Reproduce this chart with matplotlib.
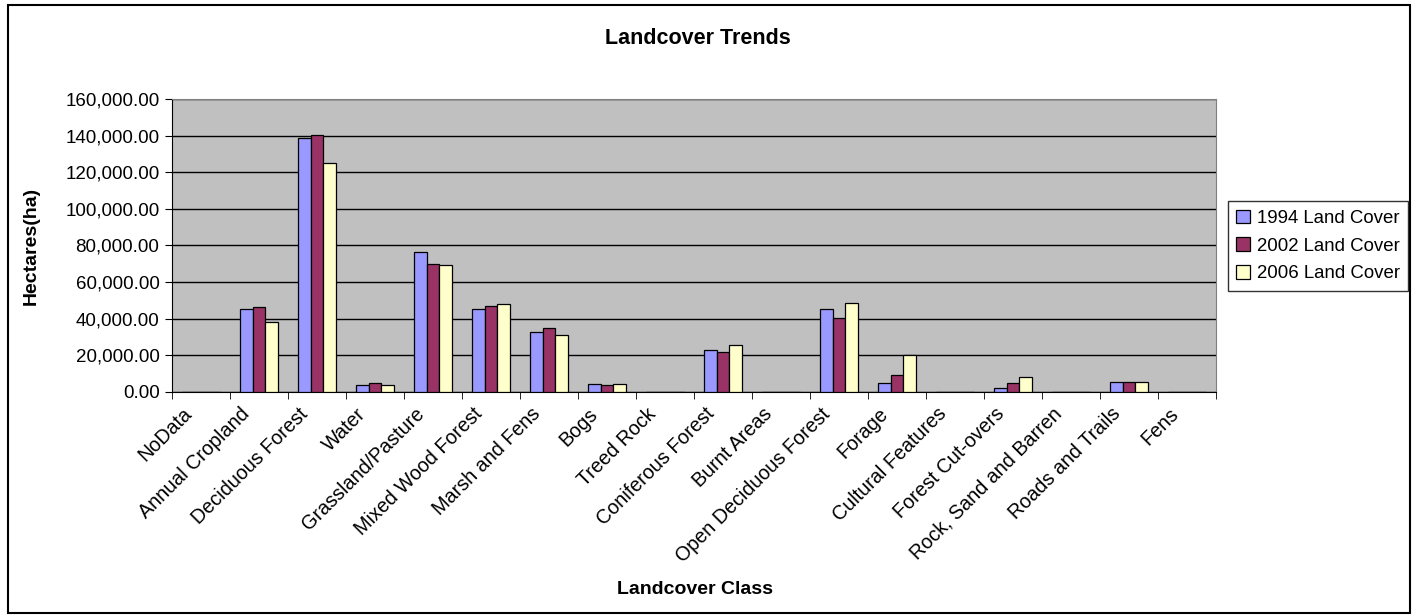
import numpy as np
import matplotlib
matplotlib.use("Agg")
import matplotlib.pyplot as plt
from matplotlib.patches import Rectangle
from matplotlib.ticker import FuncFormatter, MultipleLocator
from matplotlib.transforms import ScaledTranslation

plt.rcParams['font.family'] = ['Liberation Sans', 'DejaVu Sans']

categories = ["NoData", "Annual Cropland", "Deciduous Forest", "Water",
              "Grassland/Pasture", "Mixed Wood Forest", "Marsh and Fens", "Bogs",
              "Treed Rock", "Coniferous Forest", "Burnt Areas", "Open Deciduous Forest",
              "Forage", "Cultural Features", "Forest Cut-overs", "Rock, Sand and Barren",
              "Roads and Trails", "Fens"]
series_names = ["1994 Land Cover", "2002 Land Cover", "2006 Land Cover"]
cover_1994 = [0, 45500, 138900, 3800, 76600, 45500, 32900, 4500,
              0, 22800, 0, 45300, 4700, 0, 2200, 0, 5300, 0]
cover_2002 = [0, 46300, 140200, 4700, 69900, 46800, 34800, 3800,
              0, 21900, 0, 40500, 9500, 0, 4700, 0, 5300, 0]
cover_2006 = [0, 38400, 124900, 3800, 69400, 48200, 31000, 4500,
              0, 25400, 0, 48800, 20100, 0, 8200, 0, 5300, 0]
colors = ["#9999FF", "#993366", "#FFFFCC"]

W, H = 1415, 615
fig = plt.figure(figsize=(W / 100, H / 100), dpi=100)
ax = fig.add_axes([172 / W, 1 - 392 / H, (1216 - 172) / W, (392 - 99) / H])
ax.set_facecolor("#C0C0C0")

x = np.arange(len(categories))
bw = 0.222
for i, (vals, name) in enumerate(zip([cover_1994, cover_2002, cover_2006], series_names)):
    ax.bar(x + (i - 1) * bw, vals, width=bw, color=colors[i], edgecolor="black",
           linewidth=0.9, label=name, zorder=3)

ax.set_xlim(-0.5, len(categories) - 0.5)
ax.set_ylim(0, 160000)
ax.yaxis.set_major_locator(MultipleLocator(20000))
ax.yaxis.set_major_formatter(FuncFormatter(lambda v, p: f"{v:,.2f}"))
ax.grid(axis="y", color="black", linewidth=1.0, zorder=1)

# category names: slanted, ending just left of each category centre
ax.set_xticks(x)
ax.set_xticklabels([])
label_tr = ax.get_xaxis_transform() + ScaledTranslation(-0.08, -0.23, fig.dpi_scale_trans)
for xi, name in zip(x, categories):
    ax.text(xi, 0, name, transform=label_tr, rotation=45, ha="right",
            va="baseline", rotation_mode="anchor", fontsize=14.2)
ax.set_xticks(np.arange(-0.5, len(categories)), minor=True)
ax.tick_params(axis="x", which="major", length=0)
ax.tick_params(axis="x", which="minor", length=5, color="black")
ax.tick_params(axis="y", labelsize=13.5, length=5, color="black", pad=4)

for s in ["top", "right"]:
    ax.spines[s].set_color("#808080")
for s in ["left", "bottom"]:
    ax.spines[s].set_color("black")

ax.set_ylabel("Hectares(ha)", fontsize=14, fontweight="bold")
ax.yaxis.set_label_coords(-132 / (1216 - 172), 0.5)
fig.text(695 / W, 1 - 590 / H, "Landcover Class", ha="center", va="center",
         fontsize=14, fontweight="bold")
fig.text(698 / W, 1 - 38 / H, "Landcover Trends", ha="center", va="center",
         fontsize=15.5, fontweight="bold")

leg = fig.legend(loc="center left", bbox_to_anchor=(1228 / W, 1 - 246 / H),
                 fontsize=13.4, frameon=True, fancybox=False, edgecolor="black",
                 handlelength=0.75, handleheight=0.75, handletextpad=0.35,
                 borderpad=0.45, labelspacing=0.55, borderaxespad=0)
leg.get_frame().set_linewidth(1.0)

fig.patches.append(Rectangle((8 / W, 1 - 613 / H), (1410 - 8) / W, (613 - 5) / H,
                             transform=fig.transFigure, fill=False,
                             edgecolor="black", linewidth=1.5))

fig.savefig("out.png", dpi=100)
